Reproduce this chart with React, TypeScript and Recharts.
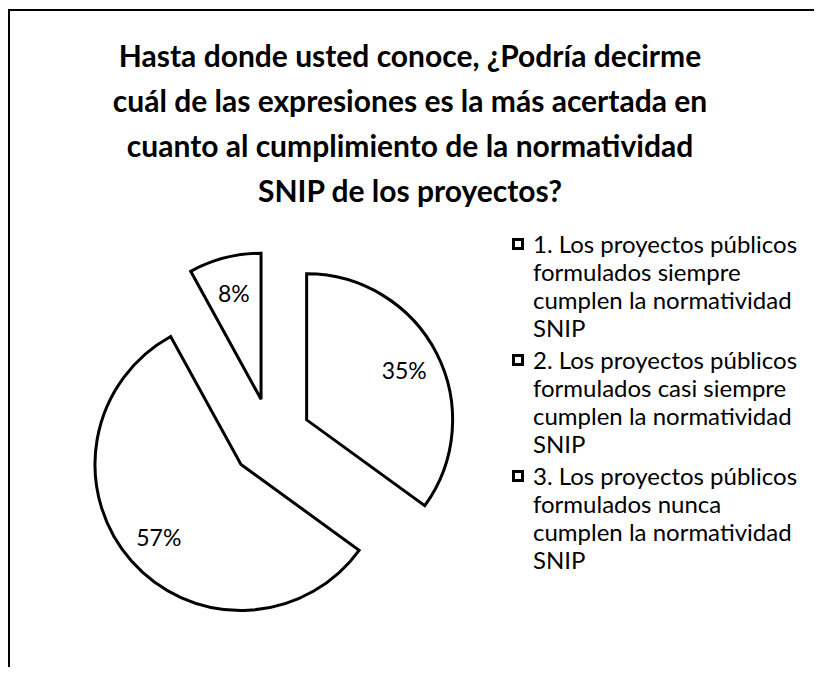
import React from 'react';
import { PieChart, Pie, Sector, Legend } from 'recharts';

// options as they appear in the legend (line breaks as in the original)
const categories = [
	'1. Los proyectos públicos\nformulados siempre\ncumplen la normatividad\nSNIP',
	'2. Los proyectos públicos\nformulados casi siempre\ncumplen la normatividad\nSNIP',
	'3. Los proyectos públicos\nformulados nunca\ncumplen la normatividad\nSNIP',
];
const percents = [35, 57, 8];

const titleLines = [
	'Hasta donde usted conoce, ¿Podría decirme',
	'cuál de las expresiones es la más acertada en',
	'cuanto al cumplimiento de la normatividad',
	'SNIP de los proyectos?',
];

const data = categories.map((name, i) => ({ name, value: percents[i] }));

const RADIAN = Math.PI / 180;
const EXPLODE = 40;
const FONT = 'Lato, "Open Sans", sans-serif';

// every slice is pulled out of the centre, drawn here with its label
const renderSlice = (p: any) =>
{
	const { cx, cy, midAngle, outerRadius, startAngle, endAngle, value, index } = p;
	const ox = cx + EXPLODE * Math.cos(-midAngle * RADIAN);
	const oy = cy + EXPLODE * Math.sin(-midAngle * RADIAN);
	const lr = outerRadius * 0.75;
	return (
		<g key={ `slice-${ index }` }>
			<Sector
				cx={ ox }
				cy={ oy }
				innerRadius={ 0 }
				outerRadius={ outerRadius }
				startAngle={ startAngle }
				endAngle={ endAngle }
				fill="#fff"
				stroke="#000"
				strokeWidth={ 3 }
			/>
			<text
				x={ ox + lr * Math.cos(-midAngle * RADIAN) }
				y={ oy + lr * Math.sin(-midAngle * RADIAN) }
				textAnchor="middle"
				dominantBaseline="central"
				fontFamily={ FONT }
				fontSize={ 23 }
				fill="#000"
			>
				{ `${ value }%` }
			</text>
		</g>
	);
};

const renderLegend = (props: any) =>
{
	const { payload } = props;
	return (
		<div style={ { fontFamily: FONT, fontSize: 24, lineHeight: '28px', color: '#000' } }>
			{ payload.map((entry: any, i: number) => (
				<div key={ i } style={ { display: 'flex', alignItems: 'flex-start', marginBottom: 4 } }>
					<span
						style={ {
							display: 'inline-block',
							width: 12,
							height: 12,
							boxSizing: 'border-box',
							border: '3px solid #000',
							background: '#fff',
							marginTop: 8,
							marginRight: 9,
							flex: 'none',
						} }
					/>
					<span style={ { whiteSpace: 'pre-line' } }>{ entry.value }</span>
				</div>
			)) }
		</div>
	);
};

export default function App()
{
	return (
		<div
			style={ {
				position: 'relative',
				top: 1,
				width: 814,
				height: 659,
				boxSizing: 'border-box',
				borderLeft: '2px solid #000',
				borderTop: '2px solid #000',
				background: '#fff',
			} }
		>
			<div
				style={ {
					position: 'absolute',
					left: 0,
					top: 22,
					width: 800,
					textAlign: 'center',
					fontFamily: FONT,
					fontWeight: 700,
					fontSize: 30,
					lineHeight: '45px',
					color: '#000',
				} }
			>
				{ titleLines.map((l, i) => <div key={ i }>{ l }</div>) }
			</div>
			<div style={ { position: 'absolute', left: 0, top: 0 } }>
				<PieChart width={ 812 } height={ 657 } margin={ { top: 0, right: 0, bottom: 0, left: 0 } }>
					<Pie
						data={ data }
						dataKey="value"
						nameKey="name"
						cx={ 261 }
						cy={ 427 }
						outerRadius={ 146 }
						startAngle={ 90 }
						endAngle={ -270 }
						fill="transparent"
						stroke="none"
						label={ renderSlice }
						labelLine={ false }
						isAnimationActive={ false }
					/>
					<Legend
						layout="vertical"
						align="right"
						verticalAlign="top"
						content={ renderLegend }
						wrapperStyle={ { position: 'absolute', left: 502, top: 219, width: 305 } }
					/>
				</PieChart>
			</div>
		</div>
	);
}
